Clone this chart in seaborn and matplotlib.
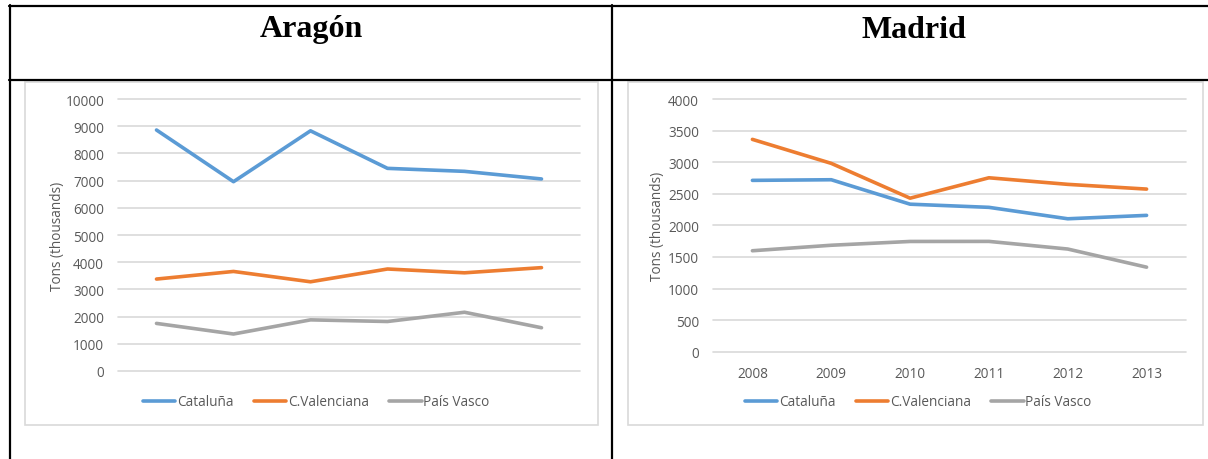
import matplotlib
matplotlib.use("Agg")
import matplotlib.pyplot as plt
from matplotlib.lines import Line2D
from matplotlib.patches import Rectangle
import pandas as pd
import seaborn as sns

# ---- data (thousand tons) ----
years = [2008, 2009, 2010, 2011, 2012, 2013]
series_names = ["Cataluña", "C.Valenciana", "País Vasco"]

aragon_cataluna = [8860, 6960, 8830, 7450, 7340, 7060]
aragon_cvalenciana = [3380, 3660, 3280, 3750, 3610, 3800]
aragon_paisvasco = [1750, 1360, 1880, 1820, 2160, 1590]

madrid_cataluna = [2712, 2722, 2335, 2285, 2104, 2158]
madrid_cvalenciana = [3361, 2981, 2430, 2753, 2649, 2574]
madrid_paisvasco = [1598, 1685, 1745, 1746, 1625, 1338]

aragon_yticks = [0, 1000, 2000, 3000, 4000, 5000, 6000, 7000, 8000, 9000, 10000]
madrid_yticks = [0, 500, 1000, 1500, 2000, 2500, 3000, 3500, 4000]

titles = ["Aragón", "Madrid"]
ylabel = "Tons (thousands)"

palette = {"Cataluña": "#5B9BD5", "C.Valenciana": "#ED7D31", "País Vasco": "#A5A5A5"}
TEXT = "#595959"
GRID = "#D9D9D9"
FS = 9.8

sns.set_theme(style="white")
plt.rcParams["font.family"] = ["Open Sans", "DejaVu Sans"]

W, H = 1208, 460
fig = plt.figure(figsize=(W / 100, H / 100), dpi=100)
fig.patch.set_facecolor("white")


def long_frame(a, b, c):
    rows = []
    for name, vals in zip(series_names, (a, b, c)):
        for y, v in zip(years, vals):
            rows.append({"year": y, "value": v, "series": name})
    return pd.DataFrame(rows)


def px_axes(x0, x1, ytop, ybot):
    return fig.add_axes([x0 / W, 1 - ybot / H, (x1 - x0) / W, (ybot - ytop) / H])


def fig_line(xs, ys, **kw):
    fig.add_artist(Line2D([x / W for x in xs], [1 - y / H for y in ys],
                          transform=fig.transFigure, **kw))


def fig_rect(x0, y0, x1, y1, **kw):
    fig.add_artist(Rectangle((x0 / W, 1 - y1 / H), (x1 - x0) / W, (y1 - y0) / H,
                             transform=fig.transFigure, fill=False, **kw))


# ---- table grid ----
fig_line([9, 1208], [6.5, 6.5], color="black", lw=1.6)
fig_line([9, 1208], [81, 81], color="black", lw=1.6)
fig_line([9.5, 9.5], [5.7, 460], color="black", lw=1.6)
fig_line([612, 612], [5.7, 460], color="black", lw=1.6)

# ---- chart frames ----
fig_rect(24.5, 83, 597.5, 426, edgecolor=GRID, lw=1.2)
fig_rect(627.5, 83, 1203, 426, edgecolor=GRID, lw=1.2)

# ---- titles ----
for cx, t in zip((311, 914), titles):
    fig.text(cx / W, 1 - 30 / H, t, ha="center", va="center",
             fontsize=23, fontweight="bold", family="Liberation Serif", color="black")


def draw_panel(ax, df, yticks, show_x, legend_cx, ylabel_x, ylabel_cy):
    sns.lineplot(data=df, x="year", y="value", hue="series", palette=palette,
                 hue_order=series_names, lw=2.6, ax=ax, legend=False, sort=False)
    ax.set_xlim(years[0] - 0.5, years[-1] + 0.5)
    ax.set_ylim(yticks[0], yticks[-1])
    ax.set_yticks(yticks)
    ax.set_yticklabels([str(v) for v in yticks], fontsize=FS, color=TEXT)
    ax.set_xticks(years)
    if show_x:
        ax.set_xticklabels([str(y) for y in years], fontsize=FS, color=TEXT)
    else:
        ax.set_xticklabels([])
    ax.tick_params(axis="both", length=0)
    ax.tick_params(axis="y", pad=10)
    ax.tick_params(axis="x", pad=10)
    ax.set_xlabel("")
    ax.set_ylabel("")
    ax.grid(axis="y", color=GRID, lw=1.2)
    for gl in ax.get_ygridlines():
        gl.set_clip_on(False)
    ax.set_axisbelow(True)
    for s in ax.spines.values():
        s.set_visible(False)
    ax.patch.set_alpha(0)
    fig.text(ylabel_x / W, 1 - ylabel_cy / H, ylabel, rotation=90,
             ha="center", va="center", fontsize=FS, color=TEXT)
    handles = [Line2D([], [], color=palette[n], lw=2.6) for n in series_names]
    fig.legend(handles, series_names, loc="center",
               bbox_to_anchor=(legend_cx / W, 1 - 403 / H), ncol=3, frameon=False,
               fontsize=FS, labelcolor=TEXT, handlelength=2.4, handletextpad=0.1,
               columnspacing=1.5)


ax1 = px_axes(118, 580, 100, 372)
draw_panel(ax1, long_frame(aragon_cataluna, aragon_cvalenciana, aragon_paisvasco),
           aragon_yticks, False, 316, 57, 236)

ax2 = px_axes(713, 1186, 100, 352.7)
draw_panel(ax2, long_frame(madrid_cataluna, madrid_cvalenciana, madrid_paisvasco),
           madrid_yticks, True, 918, 657, 226)

fig.savefig("out.png", dpi=100, facecolor="white")
